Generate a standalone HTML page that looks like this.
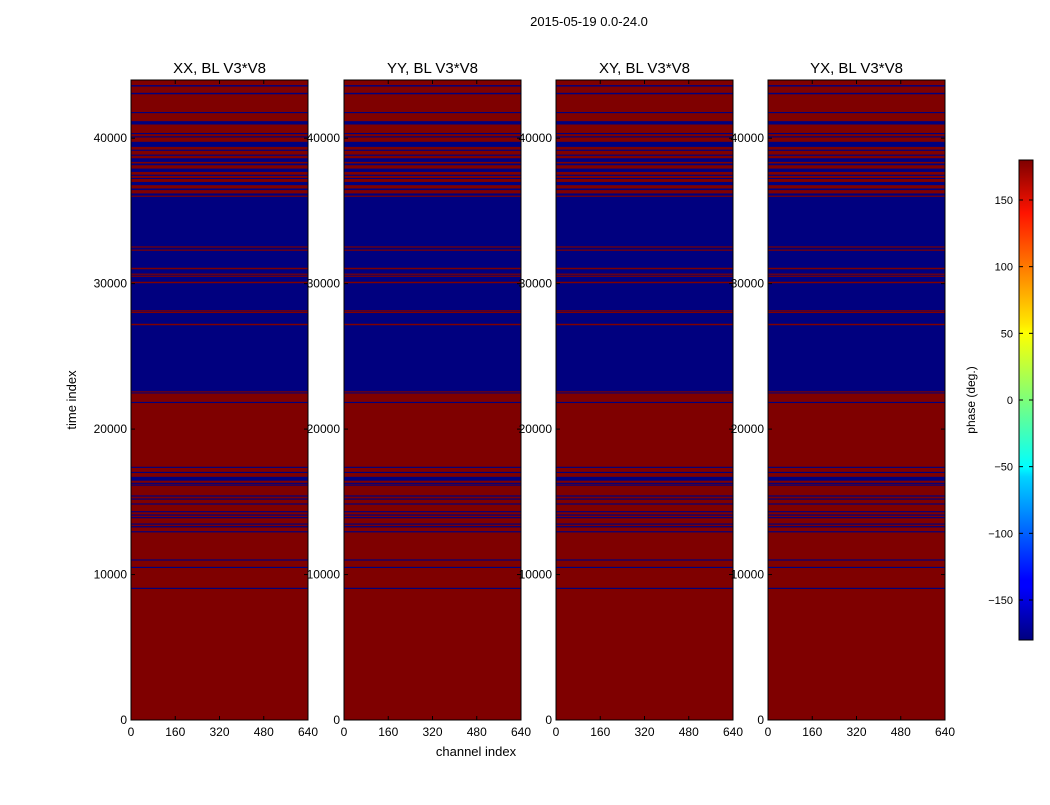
<!DOCTYPE html>
<html><head><meta charset="utf-8"><style>
body{margin:0;background:#fff;}
svg text{font-family:"Liberation Sans",sans-serif;}
</style></head><body>
<svg id="fig" width="1050" height="800" xmlns="http://www.w3.org/2000/svg">
<rect width="1050" height="800" fill="#fff"/>
<text x="589" y="26" font-size="13" text-anchor="middle">2015-05-19 0.0-24.0</text>
<text x="476" y="756" font-size="13" text-anchor="middle">channel index</text>
<text transform="translate(76,400) rotate(-90)" font-size="13" text-anchor="middle">time index</text>
<defs><linearGradient id="jet" x1="0" y1="1" x2="0" y2="0">
<stop offset="0" stop-color="#00007f"/><stop offset="0.11" stop-color="#0000ff"/><stop offset="0.125" stop-color="#0000ff"/>
<stop offset="0.34" stop-color="#00d4ff"/><stop offset="0.36" stop-color="#0ff"/><stop offset="0.5" stop-color="#7dff7a"/>
<stop offset="0.64" stop-color="#ff0"/><stop offset="0.66" stop-color="#ffe600"/><stop offset="0.89" stop-color="#ff1300"/>
<stop offset="1" stop-color="#7f0000"/></linearGradient></defs>
<g id="panels"></g>
<g>
<rect x="1019" y="160" width="14" height="480" fill="url(#jet)" stroke="#000" stroke-width="1"/>
<g id="cbticks"></g>
<text transform="translate(975,400) rotate(-90)" font-size="12" text-anchor="middle">phase (deg.)</text>
</g>
</svg>
<script>
const titles = ["XX, BL V3*V8","YY, BL V3*V8","XY, BL V3*V8","YX, BL V3*V8"];
const xTicks = [0,160,320,480,640];
const yTicks = [0,10000,20000,30000,40000];
const cbTicks = [-150,-100,-50,0,50,100,150];
const blueBands = [[43550,43650],[43020,43120],[41720,41800],[40940,41170],[40280,40360],[40050,40130],[39400,39750],[39130,39210],[38790,38870],[38370,38620],[38140,38260],[37680,37910],[37410,37490],[37190,37270],[36770,36990],[36430,36540],[36050,36200],[22450,35970],[21790,21870],[17330,17410],[16980,17060],[16450,16720],[16230,16310],[16110,16190],[15360,15440],[15150,15230],[14810,14890],[14280,14360],[14050,14130],[13870,13950],[13430,13510],[13240,13330],[12900,12980],[10960,11040],[10450,10530],[9010,9090]];
const redBands = [[32480,32560],[32260,32340],[30990,31090],[30610,30690],[30470,30550],[30030,30130],[28090,28170],[27980,28060],[27140,27240],[22520,22600]];
const NS="http://www.w3.org/2000/svg";
const panelX=[131,344,556,768], PW=177, TOP=80, BOT=720, YMAX=44000, XMAX=640;
function yS(v){return BOT-(v/YMAX)*(BOT-TOP);}
function mk(tag,attrs,parent){const e=document.createElementNS(NS,tag);for(const k in attrs)e.setAttribute(k,attrs[k]);parent.appendChild(e);return e;}
const root=document.getElementById('panels');
titles.forEach((t,i)=>{
  const x0=panelX[i];
  const xS=v=>x0+v/XMAX*PW;
  const g=mk('g',{},root);
  
  
  const bg=mk('rect',{x:x0,y:TOP,width:PW,height:BOT-TOP,fill:'#7f0000'},g);
  
  
  blueBands.forEach(b=>{const r=mk('rect',{x:x0,y:yS(b[1]),width:PW,height:yS(b[0])-yS(b[1]),fill:'#00007f'},g);
    
    });
  redBands.forEach(b=>{const r=mk('rect',{x:x0,y:yS(b[1]),width:PW,height:yS(b[0])-yS(b[1]),fill:'#7f0000'},g);
    
    });
  mk('rect',{x:x0,y:TOP,width:PW,height:BOT-TOP,fill:'none',stroke:'#000','stroke-width':1},g);
  const tt=mk('text',{x:x0+PW/2,y:73,'font-size':15,'text-anchor':'middle'},g);tt.textContent=t;
  
  
  xTicks.forEach(v=>{const x=xS(v);
    mk('line',{x1:x,x2:x,y1:BOT,y2:BOT-4,stroke:'#000'},g);mk('line',{x1:x,x2:x,y1:TOP,y2:TOP+4,stroke:'#000'},g);
    const l=mk('text',{x:x,y:BOT+16,'font-size':12,'text-anchor':'middle'},g);l.textContent=v;
    
    });
  yTicks.forEach(v=>{const y=yS(v);
    mk('line',{x1:x0,x2:x0+4,y1:y,y2:y,stroke:'#000'},g);mk('line',{x1:x0+PW,x2:x0+PW-4,y1:y,y2:y,stroke:'#000'},g);
    const l=mk('text',{x:x0-4,y:y+4,'font-size':12,'text-anchor':'end'},g);l.textContent=v;
    
    });
});
const cb=document.getElementById('cbticks');
cbTicks.forEach(v=>{const y=400-v*(480/360);
  mk('line',{x1:1019,x2:1023,y1:y,y2:y,stroke:'#000'},cb);mk('line',{x1:1033,x2:1029,y1:y,y2:y,stroke:'#000'},cb);
  const l=mk('text',{x:1013,y:y+4,'font-size':11,'text-anchor':'end'},cb);l.textContent=v===0?'0':(v<0?'\u2212'+(-v):v);
  
  });
</script>
</body></html>
